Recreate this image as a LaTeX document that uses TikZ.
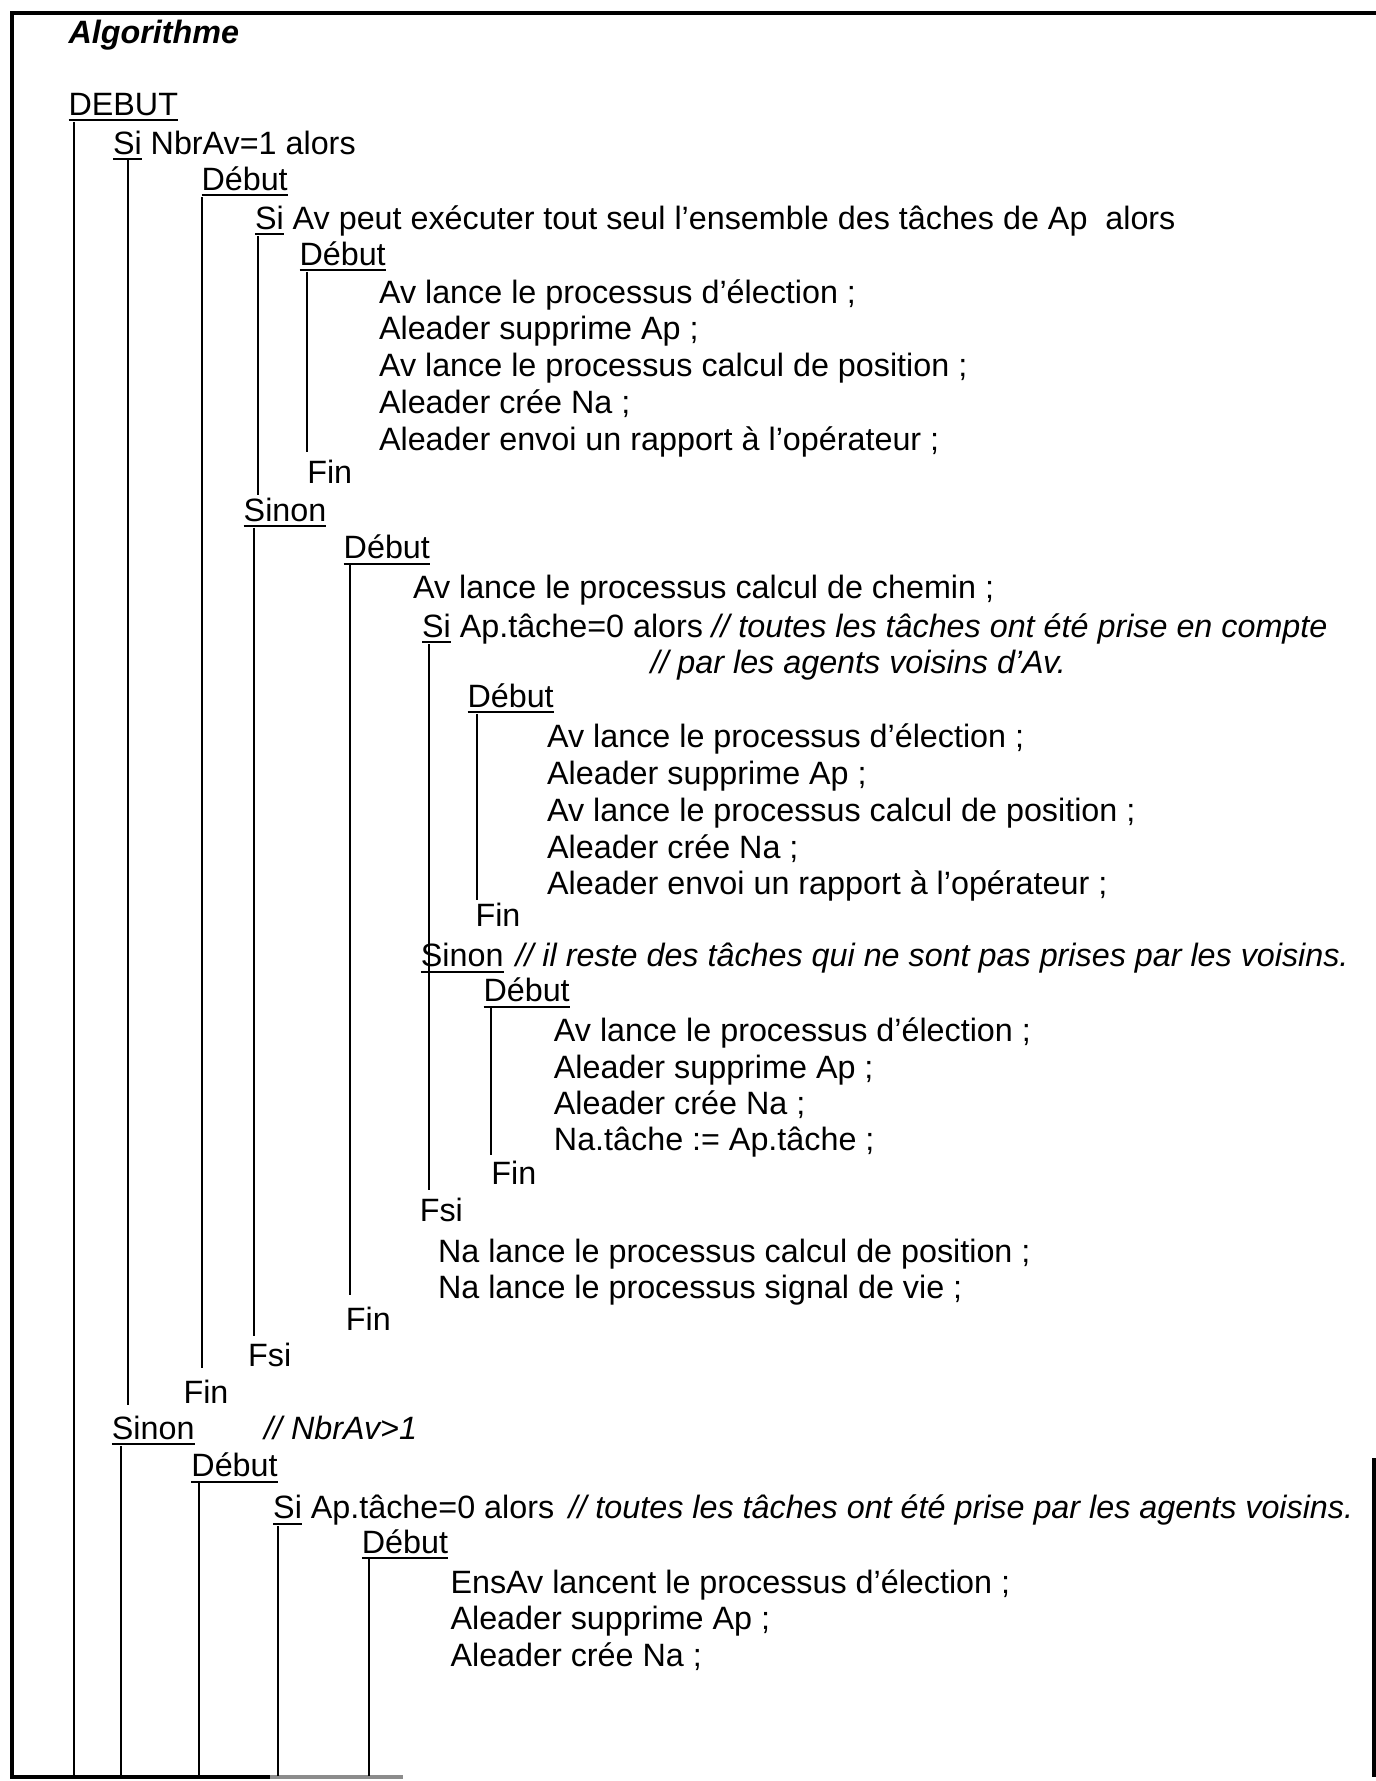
\documentclass[tikz,border=0pt]{standalone}
\usepackage{fontspec}
\setmainfont{Liberation Sans}
% underlined keyword: rule drawn just under the baseline
\newcommand\undl[1]{\setbox0\hbox{#1}\rlap{\rule[-2.2pt]{\wd0}{0.75pt}}\box0\relax}
\begin{document}
\begin{tikzpicture}[x=0.3715pt,y=-0.3715pt,
  txt/.style={anchor=base west, inner sep=0pt, font=\fontsize{12}{14}\selectfont},
  cmt/.style={anchor=base west, inner sep=0pt, font=\fontsize{12}{14}\selectfont\itshape},
  guide/.style={line width=0.6pt},
  frame/.style={line width=1.3pt}]
\useasboundingbox (0,0) rectangle (1376,1781);

% outer frame
\draw[frame] (1376,13) -- (12,13) -- (12,1777) -- (270,1777);
\draw[frame, black!45] (270,1777) -- (403,1777);
\draw[frame] (1374,1458) -- (1374,1777);

% algorithm text
\node[txt, font=\fontsize{12}{14}\selectfont\bfseries\itshape] (title) at (68,44) {Algorithme};
\node[txt] (debut0) at (68,115.5) {\undl{DEBUT}};
\node[txt] (si1) at (112.5,154) {\undl{Si} NbrAv=1 alors};
\node[txt] (deb1) at (201,190.5) {\undl{Début}};
\node[txt] (si2) at (254.5,229) {\undl{Si} Av peut exécuter tout seul l’ensemble des tâches de Ap\ \ alors};
\node[txt] (deb2) at (299,265.5) {\undl{Début}};
\node[txt] (a1) at (378.5,303) {Av lance le processus d’élection ;};
\node[txt] (a2) at (378.5,339.9) {Aleader supprime Ap ;};
\node[txt] (a3) at (378.5,376.8) {Av lance le processus calcul de position ;};
\node[txt] (a4) at (378.5,413.7) {Aleader crée Na ;};
\node[txt] (a5) at (378.5,450.6) {Aleader envoi un rapport à l’opérateur ;};
\node[txt] (fin2) at (306.8,483.7) {Fin};
\node[txt] (sinon1) at (243.2,521.2) {\undl{Sinon}};
\node[txt] (deb3) at (343.2,558.7) {\undl{Début}};
\node[txt] (b1) at (412.5,598.5) {Av lance le processus calcul de chemin ;};
\node[txt] (si3) at (421.6,637.1) {\undl{Si} Ap.tâche=0 alors};
\node[cmt] (c1) at (711,637.1) {// toutes les tâches ont été prise en compte};
\node[cmt] (c2) at (650,673.5) {// par les agents voisins d’Av.};
\node[txt] (deb4) at (467,707.5) {\undl{Début}};
\node[txt] (d1) at (546.6,747.3) {Av lance le processus d’élection ;};
\node[txt] (d2) at (546.6,784.2) {Aleader supprime Ap ;};
\node[txt] (d3) at (546.6,821.1) {Av lance le processus calcul de position ;};
\node[txt] (d4) at (546.6,858) {Aleader crée Na ;};
\node[txt] (d5) at (546.6,894.9) {Aleader envoi un rapport à l’opérateur ;};
\node[txt] (fin4) at (475,926.9) {Fin};
\node[txt] (sinon2) at (420.4,966.6) {\undl{Sinon}};
\node[cmt] (c3) at (515,966.6) {// il reste des tâches qui ne sont pas prises par les voisins.};
\node[txt] (deb5) at (483,1001.9) {\undl{Début}};
\node[txt] (e1) at (553.4,1041.6) {Av lance le processus d’élection ;};
\node[txt] (e2) at (553.4,1078) {Aleader supprime Ap ;};
\node[txt] (e3) at (553.4,1114.4) {Aleader crée Na ;};
\node[txt] (e4) at (553.4,1150.8) {Na.tâche := Ap.tâche ;};
\node[txt] (fin5) at (490.9,1184.8) {Fin};
\node[txt] (fsi3) at (419.3,1221.2) {Fsi};
\node[txt] (n1) at (437.5,1262.1) {Na lance le processus calcul de position ;};
\node[txt] (n2) at (437.5,1298.4) {Na lance le processus signal de vie ;};
\node[txt] (fin3) at (345.4,1330.2) {Fin};
\node[txt] (fsi2) at (247.7,1366.6) {Fsi};
\node[txt] (fin1) at (183,1403) {Fin};
\node[txt] (sinon3) at (111.4,1439.3) {\undl{Sinon}};
\node[cmt] (c4) at (263.6,1439.3) {// NbrAv>1};
\node[txt] (deb6) at (190.9,1476.8) {\undl{Début}};
\node[txt] (si4) at (272.7,1518.9) {\undl{Si} Ap.tâche=0 alors};
\node[cmt] (c5) at (568,1518.9) {// toutes les tâches ont été prise par les agents voisins.};
\node[txt] (deb7) at (361.3,1553) {\undl{Début}};
\node[txt] (f1) at (450,1593.9) {EnsAv lancent le processus d’élection ;};
\node[txt] (f2) at (450,1629.1) {Aleader supprime Ap ;};
\node[txt] (f3) at (450,1666.6) {Aleader crée Na ;};

% lower ends of the block guides
\coordinate (g1) at (74,1776);
\coordinate (g2) at (128,1405);
\coordinate (g3) at (202,1368);
\coordinate (g4) at (258,495);
\coordinate (g5) at (307,452);
\coordinate (g6) at (254,1336);
\coordinate (g7) at (350,1295);
\coordinate (g8) at (429,1190);
\coordinate (g9) at (477,900);
\coordinate (g10) at (491,1155);
\coordinate (g11) at (121,1776);
\coordinate (g12) at (199,1776);
\coordinate (g13) at (278,1776);
\coordinate (g14) at (369,1776);

% block guides, each hanging from its opening keyword
\draw[guide] (debut0.south -| g1) -- (g1);
\draw[guide] (si1.south -| g2) -- (g2);
\draw[guide] (deb1.south -| g3) -- (g3);
\draw[guide] (si2.south -| g4) -- (g4);
\draw[guide] (deb2.south -| g5) -- (g5);
\draw[guide] (sinon1.south -| g6) -- (g6);
\draw[guide] (deb3.south -| g7) -- (g7);
\draw[guide] (si3.south -| g8) -- (g8);
\draw[guide] (deb4.south -| g9) -- (g9);
\draw[guide] (deb5.south -| g10) -- (g10);
\draw[guide] (sinon3.south -| g11) -- (g11);
\draw[guide] (deb6.south -| g12) -- (g12);
\draw[guide] (si4.south -| g13) -- (g13);
\draw[guide] (deb7.south -| g14) -- (g14);
\end{tikzpicture}
\end{document}
